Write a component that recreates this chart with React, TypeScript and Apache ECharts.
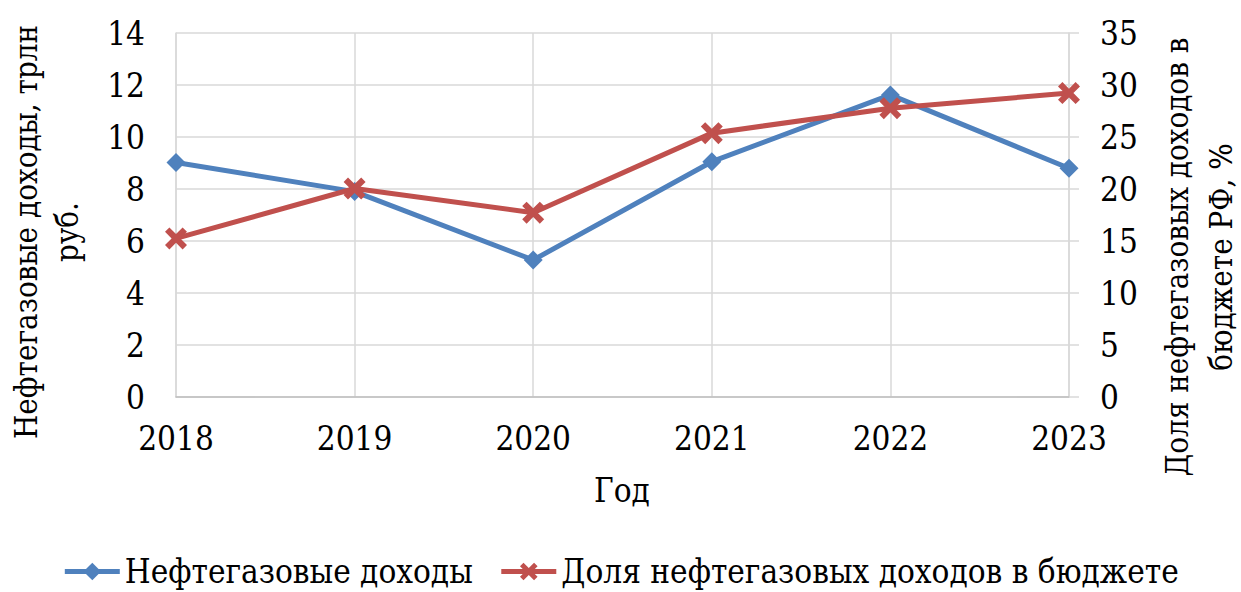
import React, { useEffect, useRef } from "react";
import * as echarts from "echarts";

const years = ["2018", "2019", "2020", "2021", "2022", "2023"];
const revenue = [9.02, 7.9, 5.27, 9.05, 11.62, 8.8];
const share = [15.25, 20.05, 17.72, 25.37, 27.77, 29.22];

const seriesNames = ["Нефтегазовые доходы", "Доля нефтегазовых доходов в бюджете"];
const leftTitle = "Нефтегазовые доходы, трлн\nруб.";
const rightTitle = "Доля нефтегазовых доходов в\nбюджете РФ, %";
const xTitle = "Год";

const FONT = "DejaVu Serif Condensed";
const BLUE = "#4F81BD";
const RED = "#C0504D";
const CROSS = "path://M2,0 L5,3 L8,0 L10,2 L7,5 L10,8 L8,10 L5,7 L2,10 L0,8 L3,5 L0,2 Z";

export default function App() {
  const ref = useRef<HTMLDivElement>(null);
  useEffect(() => {
    document.body.style.margin = "0";
    const chart = echarts.init(ref.current!, null, { renderer: "svg" });
    chart.setOption({
      animation: false,
      backgroundColor: "#ffffff",
      textStyle: { fontFamily: FONT, color: "#000" },
      grid: { left: 176, right: 172, top: 33, bottom: 195, containLabel: false },
      legend: {
        top: 550,
        left: "center",
        itemWidth: 55,
        itemHeight: 22,
        itemGap: 26,
        lineStyle: { width: 5 },
        textStyle: { fontFamily: FONT, fontSize: 33, color: "#000" },
        data: seriesNames,
      },
      xAxis: {
        type: "category",
        data: years,
        boundaryGap: false,
        axisLine: { show: true, lineStyle: { color: "#bfbfbf", width: 1.5 } },
        axisTick: { show: false },
        splitLine: { show: true, lineStyle: { color: "#d9d9d9", width: 1.5 } },
        axisLabel: { fontFamily: FONT, fontSize: 33, color: "#000", margin: 25 },
      },
      yAxis: [
        {
          type: "value",
          min: 0,
          max: 14,
          interval: 2,
          position: "left",
          axisLine: { show: true, lineStyle: { color: "#d9d9d9", width: 1.5 } },
          axisTick: { show: false },
          splitLine: { show: true, lineStyle: { color: "#d9d9d9", width: 1.5 } },
          axisLabel: { fontFamily: FONT, fontSize: 33, color: "#000", margin: 31 },
        },
        {
          type: "value",
          min: 0,
          max: 35,
          interval: 5,
          position: "right",
          axisLine: { show: true, lineStyle: { color: "#d9d9d9", width: 1.5 } },
          axisTick: { show: true, length: 10, lineStyle: { color: "#d9d9d9", width: 1.5 } },
          splitLine: { show: false },
          axisLabel: { fontFamily: FONT, fontSize: 33, color: "#000", margin: 31 },
        },
      ],
      graphic: [
        {
          type: "text",
          x: 46,
          y: 232,
          rotation: Math.PI / 2,
          style: {
            text: leftTitle,
            fontFamily: FONT,
            fontSize: 31,
            fill: "#000",
            align: "center",
            verticalAlign: "middle",
            lineHeight: 41,
          },
        },
        {
          type: "text",
          x: 1199,
          y: 257,
          rotation: Math.PI / 2,
          style: {
            text: rightTitle,
            fontFamily: FONT,
            fontSize: 31,
            fill: "#000",
            align: "center",
            verticalAlign: "middle",
            lineHeight: 44,
          },
        },
        {
          type: "text",
          x: 622,
          y: 490,
          style: {
            text: xTitle,
            fontFamily: FONT,
            fontSize: 33,
            fill: "#000",
            align: "center",
            verticalAlign: "middle",
          },
        },
      ],
      series: [
        {
          name: seriesNames[0],
          type: "line",
          yAxisIndex: 0,
          data: revenue,
          symbol: "diamond",
          symbolSize: [19, 19],
          lineStyle: { color: BLUE, width: 5 },
          itemStyle: { color: BLUE },
          z: 2,
        },
        {
          name: seriesNames[1],
          type: "line",
          yAxisIndex: 1,
          data: share,
          symbol: CROSS,
          symbolSize: 22,
          lineStyle: { color: RED, width: 5 },
          itemStyle: { color: RED },
          z: 3,
        },
      ],
    });
    return () => chart.dispose();
  }, []);
  return <div ref={ref} style={{ width: 1241, height: 592 }} />;
}
